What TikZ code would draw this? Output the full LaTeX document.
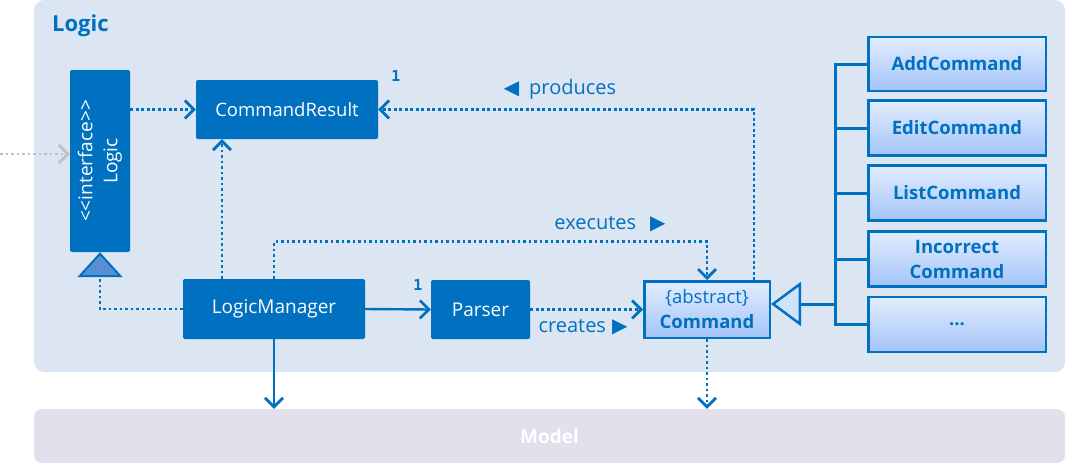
\documentclass[tikz,border=0pt]{standalone}
\usepackage{fontspec}
\setmainfont{Open Sans}
\newfontfamily\symfont{DejaVu Sans}
\newfontfamily\numfont{DejaVu Sans Mono}
\usetikzlibrary{arrows.meta}
\definecolor{logicblue}{HTML}{0070C0}
\definecolor{packfill}{HTML}{DCE6F2}
\definecolor{modelfill}{HTML}{E4DFEC}
\definecolor{boxtop}{HTML}{E2EDFF}
\definecolor{boxbottom}{HTML}{A3C4F7}
\definecolor{realizefill}{HTML}{5A8ED3}
\definecolor{outsidegray}{HTML}{C0C0C0}

\begin{document}
\begin{tikzpicture}[x=1pt,y=1pt]
\tikzstyle{every node}+=[inner sep=0pt]
\tikzstyle{solidbox}=[fill=logicblue,rounded corners=2pt,text=white,align=center,font=\fontsize{19}{25}\selectfont]
\tikzstyle{classbox}=[draw=logicblue,line width=2.5pt,top color=boxtop,bottom color=boxbottom,text=logicblue,align=center,font=\fontsize{18.5}{25}\selectfont\bfseries]
\tikzstyle{lbl}=[text=logicblue,font=\fontsize{20}{22}\selectfont]
\tikzstyle{mult}=[text=logicblue,font=\numfont\bfseries\fontsize{15}{17}\selectfont]
\tikzstyle{dep}=[draw=logicblue,line width=2.8pt,dash pattern=on 2.8pt off 2.7pt,-{Straight Barb[length=9pt,width=18pt,line width=2.7pt]}]
\tikzstyle{assoc}=[draw=logicblue,line width=2.4pt,-{Straight Barb[length=9pt,width=18pt,line width=2.7pt]}]
\tikzstyle{realize}=[draw=logicblue,line width=2.8pt,dash pattern=on 2.8pt off 2.7pt,-{Triangle[length=25pt,width=45pt,line width=2pt,fill=realizefill]}]
\tikzstyle{inherit}=[draw=logicblue,line width=3pt,-{Triangle[length=30pt,width=44pt,line width=2.5pt,fill=boxtop!70!boxbottom]}]
\tikzstyle{tree}=[draw=logicblue,line width=3pt]
\useasboundingbox (0,0) rectangle (1066,-464);
\node (logicpkg) [fill=packfill,rounded corners=10pt,minimum width=1031,minimum height=372] at (549.5,-186) {};
\node (model) [fill=modelfill,rounded corners=8pt,minimum width=1031,minimum height=54,text=white,font=\fontsize{19}{21}\selectfont\bfseries] at (549.5,-436) {Model};
\node (logictitle) [anchor=west,text=logicblue,font=\fontsize{22}{24}\selectfont\bfseries] at (52,-26) {Logic};
\node (logic) [solidbox,rotate=90,minimum width=182,minimum height=60] at (100,-161) {<{}<interface>{}>\\Logic};
\node (cmdres) [solidbox,minimum width=182,minimum height=59,font=\fontsize{18.5}{24}\selectfont] at (287,-109.5) {CommandResult};
\node (lm) [solidbox,minimum width=182,minimum height=60] at (274,-309) {LogicManager};
\node (parser) [solidbox,minimum width=99,minimum height=59] at (480.5,-309.5) {Parser};
\node (cmd) [classbox,minimum width=125.5,minimum height=56.5,font=\fontsize{18.5}{25}\selectfont] at (707,-309.5) {\{abstract\}\\\bfseries Command};
\node (addc) [classbox,minimum width=177.5,minimum height=54] at (957,-64) {AddCommand};
\node (editc) [classbox,minimum width=177.5,minimum height=55] at (957,-128) {EditCommand};
\node (listc) [classbox,minimum width=177.5,minimum height=55] at (957,-193) {ListCommand};
\node (incc) [classbox,minimum width=177.5,minimum height=55] at (957,-259) {Incorrect\\Command};
\node (morec) [classbox,minimum width=177.5,minimum height=55] at (957,-324.5) {...};
\coordinate (ext) at (0,-154);
\coordinate (bus) at (835,-304);
\draw [dep,draw=outsidegray] (ext) -- (ext -| logic.north);
\draw [dep] (logic.south |- cmdres.west) -- (cmdres.west);
\draw [realize] (lm.west) -| (logic.west);
\draw [dep] ([xshift=-52pt]lm.north) -- ([xshift=-52pt]lm.north |- cmdres.south);
\draw [dep] (lm.north) -- ++(0,37) -| (cmd.north);
\node (execlbl) [lbl] at (610,-224) {executes\hspace{14pt}{\symfont\fontsize{20}{20}\selectfont▶}};
\draw [assoc] (lm.east) -- (parser.west);
\node (parsermult) [mult] at (418,-285) {1};
\draw [dep] (parser.east) -- (cmd.west);
\node (createlbl) [lbl] at (583,-327) {creates\hspace{6pt}{\symfont\fontsize{20}{20}\selectfont▶}};
\draw [dep] ([xshift=47pt]cmd.north) |- (cmdres.east);
\node (prodlbl) [lbl] at (560,-89) {{\symfont\fontsize{20}{20}\selectfont◀}\hspace{10pt}produces};
\node (resmult) [mult] at (396,-76) {1};
\draw [assoc] (lm.south) -- (lm.south |- model.north);
\draw [dep] (cmd.south) -- (cmd.south |- model.north);
\draw [tree] (addc.west) -- (addc.west -| bus) -- (morec.west -| bus) -- (morec.west);
\draw [tree] (editc.west) -- (editc.west -| bus);
\draw [tree] (listc.west) -- (listc.west -| bus);
\draw [tree] (incc.west) -- (incc.west -| bus);
\draw [inherit] (bus) -- (bus -| cmd.east);
\end{tikzpicture}
\end{document}
